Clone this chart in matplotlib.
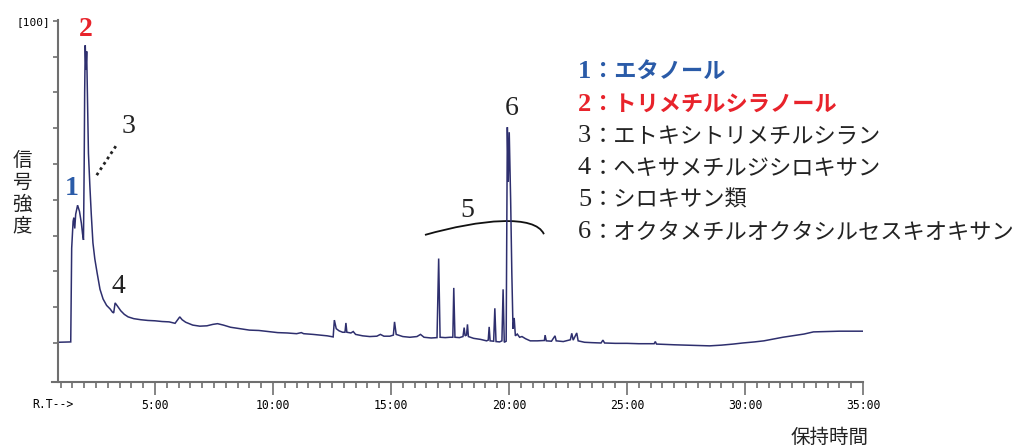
import matplotlib
matplotlib.use("Agg")
import matplotlib.pyplot as plt
from matplotlib.path import Path
from matplotlib.patches import PathPatch

# ---------------- data ----------------
rt_min = [0.89, 1.43, 1.47, 1.53, 1.56, 1.60, 1.64, 1.72, 1.80, 1.88, 1.93, 1.97,
          2.00, 2.02, 2.045, 2.075, 2.105, 2.14, 2.18, 2.24, 2.30, 2.37, 2.45, 2.55,
          2.67, 2.80, 2.95, 3.10, 3.20, 3.25, 3.31, 3.40, 3.55, 3.70, 3.86, 4.10,
          4.40, 4.70, 5.00, 5.30, 5.60, 5.85, 5.95, 6.05, 6.15, 6.30, 6.60, 6.90,
          7.20, 7.45, 7.65, 7.90, 8.20, 8.60, 9.00, 9.40, 9.80, 10.20, 10.60, 11.00,
          11.20, 11.30, 11.70, 12.00, 12.30, 12.55, 12.60, 12.68, 12.80, 12.95, 13.05,
          13.09, 13.13, 13.30, 13.40, 13.50, 13.80, 14.10, 14.40, 14.55, 14.70, 14.95,
          15.10, 15.15, 15.22, 15.50, 15.80, 16.10, 16.25, 16.40, 16.70, 16.95, 17.02,
          17.08, 17.30, 17.50, 17.62, 17.66, 17.71, 17.90, 18.05, 18.10, 18.14, 18.20,
          18.24, 18.28, 18.50, 18.80, 19.05, 19.12, 19.16, 19.20, 19.35, 19.40, 19.45,
          19.60, 19.70, 19.75, 19.80, 19.88, 19.93, 19.97, 20.01, 20.07, 20.12, 20.17,
          20.22, 20.27, 20.35, 20.45, 20.55, 20.70, 20.90, 21.20, 21.50, 21.53, 21.58,
          21.80, 21.95, 22.00, 22.30, 22.60, 22.66, 22.72, 22.87, 22.93, 23.20, 23.50,
          23.90, 23.98, 24.05, 24.50, 25.00, 25.50, 26.15, 26.20, 26.25, 27.00, 27.50,
          28.00, 28.50, 29.00, 29.50, 29.90, 30.40, 30.80, 31.20, 31.60, 32.00, 32.50,
          32.90, 33.50, 34.00, 34.50, 35.00]
intensity = [10.2, 10.3, 36.5, 44.0, 45.0, 42.0, 46.0, 48.5, 46.8, 43.5, 40.5, 38.8,
             60.0, 80.0, 93.2, 86.5, 91.5, 78.0, 63.0, 54.0, 46.0, 38.0, 33.5, 29.5,
             25.0, 22.3, 20.5, 19.5, 18.6, 18.4, 21.2, 20.4, 19.0, 18.0, 17.3, 16.8,
             16.5, 16.3, 16.2, 16.0, 15.9, 15.5, 16.4, 17.3, 16.5, 15.8, 15.0, 14.7,
             14.8, 15.2, 15.4, 15.0, 14.4, 14.0, 13.6, 13.5, 13.2, 12.9, 12.8, 12.6,
             12.9, 12.6, 12.4, 12.2, 12.0, 11.7, 16.4, 14.0, 13.4, 13.0, 13.0,
             15.6, 13.0, 12.8, 13.2, 12.4, 12.0, 11.8, 11.9, 12.4, 11.9, 11.9,
             12.2, 15.9, 12.4, 11.8, 11.6, 11.8, 12.4, 11.6, 11.4, 11.5, 33.6,
             11.6, 11.5, 11.6, 11.6, 25.4, 11.6, 11.5, 11.8, 14.3, 12.0, 12.2,
             15.2, 11.8, 11.3, 11.0, 10.6, 10.8, 14.5, 10.6, 10.5, 19.7, 10.4,
             10.3, 10.6, 25.0, 10.2, 10.5, 70.3, 55.0, 68.9, 50.0, 29.5, 14.0,
             17.0, 12.0, 12.5, 11.6, 11.8, 11.2, 10.6, 10.6, 10.7, 12.2, 10.6,
             10.5, 12.0, 10.6, 10.4, 10.9, 12.7, 10.8, 12.8, 10.6, 10.2, 10.1,
             10.0, 10.8, 10.0, 9.9, 9.9, 9.8, 9.8, 10.4, 9.7, 9.5, 9.4,
             9.3, 9.2, 9.4, 9.7, 10.0, 10.3, 10.6, 11.1, 11.6, 12.0, 12.5,
             13.1, 13.2, 13.3, 13.3, 13.3]

major_ticks = [5, 10, 15, 20, 25, 30, 35]
major_labels = ["5:00", "10:00", "15:00", "20:00", "25:00", "30:00", "35:00"]
minor_ticks = [1 + 0.5 * i for i in range(69)]
y_ticks = [10, 20, 30, 40, 50, 60, 70, 80, 90, 100]
y_labels = [""] * 9 + ["[100]"]

legend_nums = ["1", "2", "3", "4", "5", "6"]
legend_names = ["：エタノール", "：トリメチルシラノール", "：エトキシトリメチルシラン",
                "：ヘキサメチルジシロキサン", "：シロキサン類",
                "：オクタメチルオクタシルセスキオキサン"]

# ---------------- styling ----------------
BLUE = "#2a5ba8"
RED = "#e8232b"
LINE = "#2e2f6e"
AXC = "#6f6f6f"
JP = ["Noto Sans CJK JP", "DejaVu Sans"]
SERIF = ["Liberation Serif", "DejaVu Serif"]
MONO = "DejaVu Sans Mono"

fig = plt.figure(figsize=(10.16, 4.48), dpi=100)
W, H = 1016, 448
ax = fig.add_axes([52 / W, 1 - 382 / H, (863 - 52) / W, (382 - 20.2) / H])

ax.plot(rt_min, intensity, color=LINE, lw=1.1, solid_joinstyle="miter")

ax.set_xlim(0.636, 35.0)
ax.set_ylim(-0.9, 100.2)

for s in ["top", "right"]:
    ax.spines[s].set_visible(False)
for s in ["left", "bottom"]:
    ax.spines[s].set_color(AXC)
    ax.spines[s].set_linewidth(1.5)
ax.spines["left"].set_position(("data", 0.89))

ax.set_xticks(major_ticks)
ax.set_xticklabels(major_labels, family=MONO, fontsize=8.3)
ax.set_xticks(minor_ticks, minor=True)
ax.tick_params(axis="x", which="major", direction="out", length=9.5, width=1.2,
               color=AXC, pad=2.5)
ax.tick_params(axis="x", which="minor", direction="out", length=4.5, width=1.2,
               color=AXC)
ax.set_yticks(y_ticks)
ax.set_yticklabels(y_labels, family=MONO, fontsize=8.0)
ax.tick_params(axis="y", direction="out", length=3.8, width=1.2, color=AXC, pad=2)

fig.text(52.5 / W, 1 - 405 / H, "R.T-->", family=MONO, fontsize=8.3,
         ha="center", va="center")

# axis titles
fig.text(22 / W, 1 - 193 / H, "信\n号\n強\n度", family=JP, fontsize=14,
         ha="center", va="center", linespacing=1.05, color="#222222")
fig.text(830 / W, 1 - 437 / H, "保持時間", family=JP, fontsize=14,
         ha="center", va="center", color="#222222")

# peak annotations
ax.text(1.48, 53.2, "1", color=BLUE, family=SERIF, fontsize=20, fontweight="bold",
        ha="center", va="center")
ax.text(2.08, 97.6, "2", color=RED, family=SERIF, fontsize=20, fontweight="bold",
        ha="center", va="center")
ax.text(3.86, 70.6, "3", color="#222222", family=SERIF, fontsize=20,
        ha="center", va="center")
ax.plot([2.53, 3.40], [56.9, 65.6], color="#222222", lw=2.0, ls=(0, (1, 1.3)))
ax.text(3.43, 25.9, "4", color="#222222", family=SERIF, fontsize=20,
        ha="center", va="center")
ax.text(18.22, 47.1, "5", color="#222222", family=SERIF, fontsize=20,
        ha="center", va="center")
ax.text(20.13, 75.6, "6", color="#222222", family=SERIF, fontsize=20,
        ha="center", va="center")
arc = Path([(16.44, 40.2), (18.8, 44.6), (21.1, 46.0), (21.48, 40.4)],
           [Path.MOVETO, Path.CURVE4, Path.CURVE4, Path.CURVE4])
ax.add_patch(PathPatch(arc, fill=False, edgecolor="#111111", lw=1.3))

# legend list
ys = [72, 104, 136, 168, 200, 232]
colors = [BLUE, RED, "#222222", "#222222", "#222222", "#222222"]
weights = ["bold", "bold", "normal", "normal", "normal", "normal"]
for n, name, y, c, w in zip(legend_nums, legend_names, ys, colors, weights):
    fig.text(578 / W, 1 - y / H, n, family=SERIF, fontsize=19, color=c,
             fontweight=w, ha="left", va="center")
    fig.text(592 / W, 1 - y / H, name, family=JP, fontsize=16, color=c,
             fontweight=w, ha="left", va="center")

fig.savefig("out.png", dpi=100)
